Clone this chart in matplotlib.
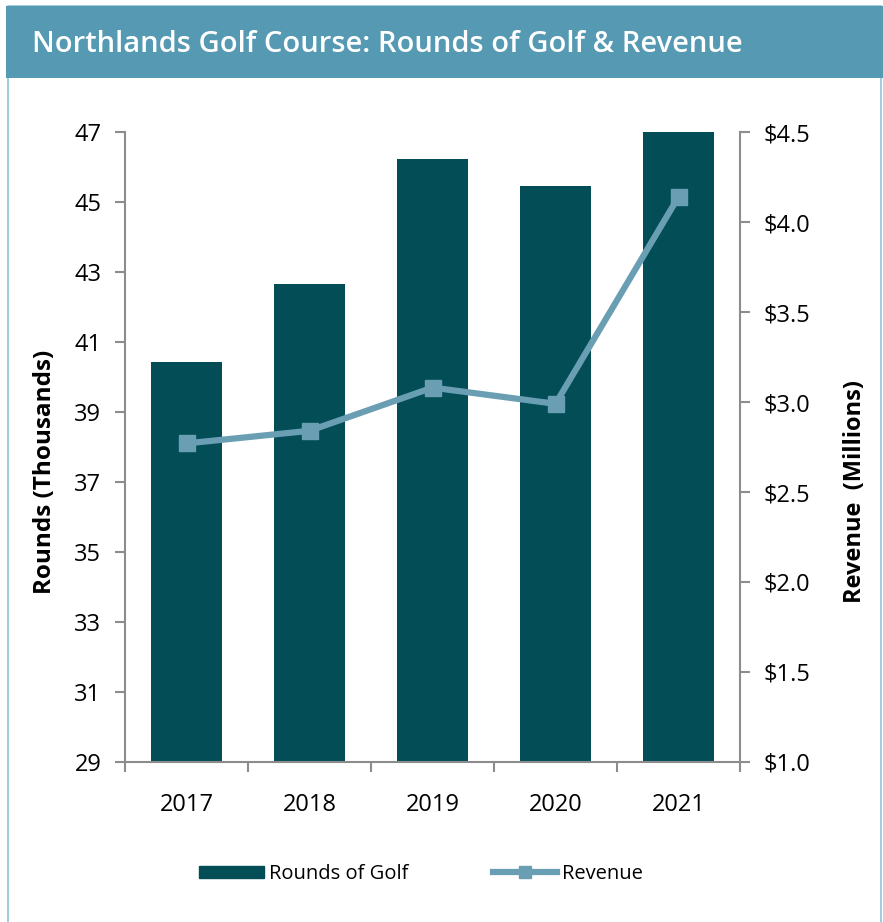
import matplotlib.pyplot as plt
from matplotlib.patches import Rectangle
from matplotlib.lines import Line2D

years = ['2017', '2018', '2019', '2020', '2021']
rounds = [40.43, 42.66, 46.23, 45.46, 47.0]      # thousands
revenue = [2.77, 2.84, 3.08, 2.99, 4.14]         # millions of dollars

left_ticks = [29, 31, 33, 35, 37, 39, 41, 43, 45, 47]
right_ticks = [1.0, 1.5, 2.0, 2.5, 3.0, 3.5, 4.0, 4.5]

bar_col = '#034d57'
line_col = '#6a9fb3'
head_col = '#5599b3'
edge_col = '#8fc3d8'
spine_col = '#8c8c8c'

plt.rcParams['font.family'] = ['Open Sans', 'DejaVu Sans']

fig = plt.figure(figsize=(8.83, 9.22), dpi=100)
W, H = 883, 922

# outer frame (open at the bottom) and title band
fig.patches.append(Rectangle((8 / W, -0.05), (881 - 8) / W, 1.05 - 6 / H, transform=fig.transFigure,
                             fill=False, edgecolor=edge_col, lw=1.2))
fig.patches.append(Rectangle((6 / W, 1 - 78 / H), 1, 72 / H, transform=fig.transFigure,
                             facecolor=head_col, edgecolor='none'))
fig.text(32 / W, 1 - 44 / H, 'Northlands Golf Course: Rounds of Golf & Revenue',
         color='white', fontsize=21, fontweight='semibold', va='center', ha='left')

ax = fig.add_axes([125 / W, 1 - 762 / H, (740 - 125) / W, (762 - 132) / H])
x = range(len(years))
ax.bar(x, rounds, width=0.57, color=bar_col, zorder=2)
ax.set_ylim(29, 47)
ax.set_xlim(-0.5, len(years) - 0.5)
ax.set_yticks(left_ticks)
ax.set_xticks(list(x))
ax.set_xticklabels(years)
ax.set_xticks([i - 0.5 for i in range(len(years) + 1)], minor=True)
ax.tick_params(axis='x', which='major', length=0, pad=22, labelsize=17)
ax.tick_params(axis='x', which='minor', length=7, width=1.5, color=spine_col)
ax.tick_params(axis='y', length=7, width=1.5, color=spine_col, labelsize=17, pad=10)
ax.set_ylabel('Rounds (Thousands)', fontsize=17.5, fontweight='bold')
ax.yaxis.set_label_coords(-0.11, 0.46)
for s in ['top', 'right']:
    ax.spines[s].set_visible(False)
for s in ['left', 'bottom']:
    ax.spines[s].set_color(spine_col)
    ax.spines[s].set_linewidth(1.5)

ax2 = ax.twinx()
ax2.plot(x, revenue, color=line_col, lw=4.5, marker='s', markersize=11, zorder=3)
ax2.set_ylim(1.0, 4.5)
ax2.set_yticks(right_ticks)
ax2.set_yticklabels(['${:.1f}'.format(v) for v in right_ticks])
ax2.tick_params(axis='y', length=7, width=1.5, color=spine_col, labelsize=17, pad=10)
ax2.set_ylabel('Revenue  (Millions)', fontsize=17, fontweight='bold')
ax2.yaxis.set_label_coords(1.167, 0.43)
for s in ['top', 'left', 'bottom']:
    ax2.spines[s].set_visible(False)
ax2.spines['right'].set_color(spine_col)
ax2.spines['right'].set_linewidth(1.5)
ax2.spines['right'].set_position(('data', len(years) - 0.5))

handles = [Rectangle((0, 0), 1, 1, color=bar_col),
           Line2D([], [], color=line_col, lw=4.5, marker='s', markersize=9)]
fig.legend(handles, ['Rounds of Golf', 'Revenue'], loc='center',
           bbox_to_anchor=(421 / W, 1 - 874 / H), ncol=2, frameon=False,
           fontsize=14.5, handlelength=3.2, handleheight=0.6, handletextpad=0.25,
           columnspacing=4.2)

fig.savefig('out.png', dpi=100)
